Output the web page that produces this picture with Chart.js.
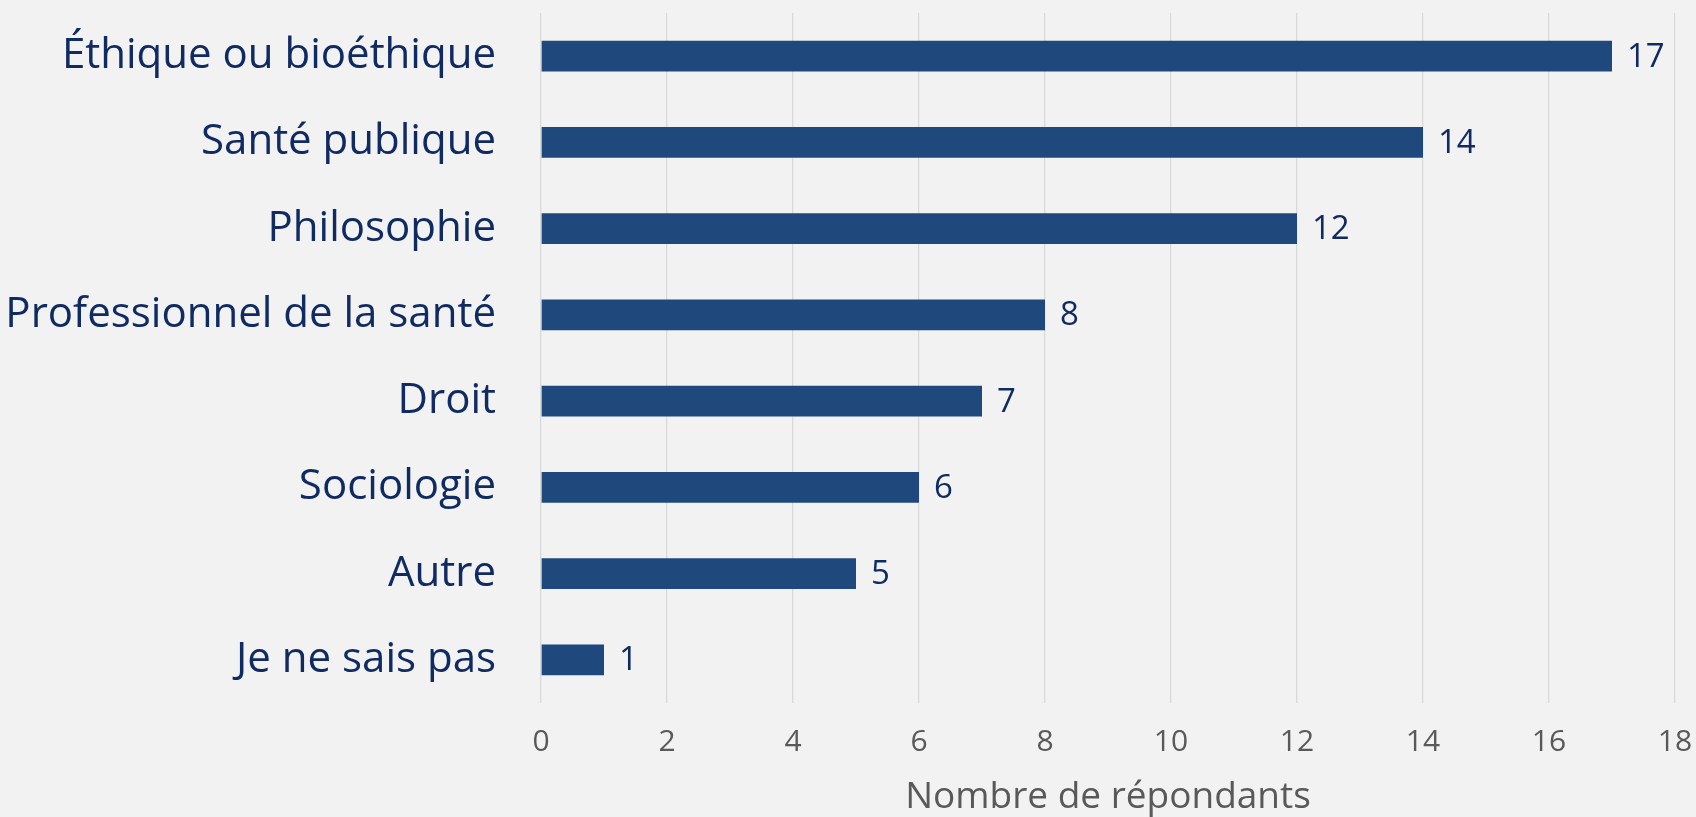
<!DOCTYPE html>
<html>
<head>
<meta charset="utf-8">
<script src="https://cdn.jsdelivr.net/npm/chart.js@4"></script>
<style>
  html, body { margin: 0; padding: 0; background: #f2f2f2; }
  #wrap { width: 1696px; height: 817px; position: relative; }
</style>
</head>
<body>
<div id="wrap"><canvas id="barChart"></canvas></div>
<script>
// --- Data ---
const categories = [
  'Éthique ou bioéthique',
  'Santé publique',
  'Philosophie',
  'Professionnel de la santé',
  'Droit',
  'Sociologie',
  'Autre',
  'Je ne sais pas'
];
const respondents = [17, 14, 12, 8, 7, 6, 5, 1];
const xTicks = [0, 2, 4, 6, 8, 10, 12, 14, 16, 18];

const FONT = "'Open Sans', 'Noto Sans', sans-serif";

// --- Value labels at bar ends ---
const valueLabels = {
  id: 'valueLabels',
  afterDatasetsDraw(chart) {
    const { ctx } = chart;
    const meta = chart.getDatasetMeta(0);
    ctx.save();
    ctx.font = `33px ${FONT}`;
    ctx.fillStyle = '#102a62';
    ctx.textAlign = 'left';
    ctx.textBaseline = 'middle';
    meta.data.forEach((bar, i) => {
      ctx.fillText(String(respondents[i]), bar.x + 15, bar.y + 1);
    });
    ctx.restore();
  }
};

const ctx = document.getElementById('barChart');

new Chart(ctx, {
  type: 'bar',
  data: {
    labels: categories,
    datasets: [{
      data: respondents,
      backgroundColor: '#1f497d',
      borderWidth: 0,
      barPercentage: 0.356,
      categoryPercentage: 1
    }]
  },
  options: {
    indexAxis: 'y',
    responsive: true,
    maintainAspectRatio: false,
    animation: false,
    layout: { padding: { top: 13, right: 21, bottom: 0, left: 0 } },
    plugins: {
      legend: { display: false },
      tooltip: { enabled: false }
    },
    scales: {
      x: {
        min: 0,
        max: 18,
        afterBuildTicks: (scale) => { scale.ticks = xTicks.map(v => ({ value: v })); },
        afterFit: (scale) => {
          scale.height = 114;
          scale.paddingLeft = 0;
          scale.paddingRight = 0;
        },
        grid: { color: '#d9d9d9', lineWidth: 1.3, drawTicks: false },
        border: { display: false },
        ticks: {
          color: '#595959',
          font: { family: FONT, size: 30 },
          padding: 21
        },
        title: {
          display: true,
          text: 'Nombre de répondants',
          color: '#595959',
          font: { family: FONT, size: 37 },
          padding: { top: 0, bottom: -3 }
        }
      },
      y: {
        afterFit: (scale) => {
          scale.width = 541;
          scale.paddingTop = 0;
          scale.paddingBottom = 0;
        },
        grid: { display: false, drawTicks: false },
        border: { display: false },
        ticks: {
          color: '#102a62',
          font: { family: FONT, size: 42 },
          padding: 45
        }
      }
    }
  },
  plugins: [valueLabels]
});
</script>
</body>
</html>
